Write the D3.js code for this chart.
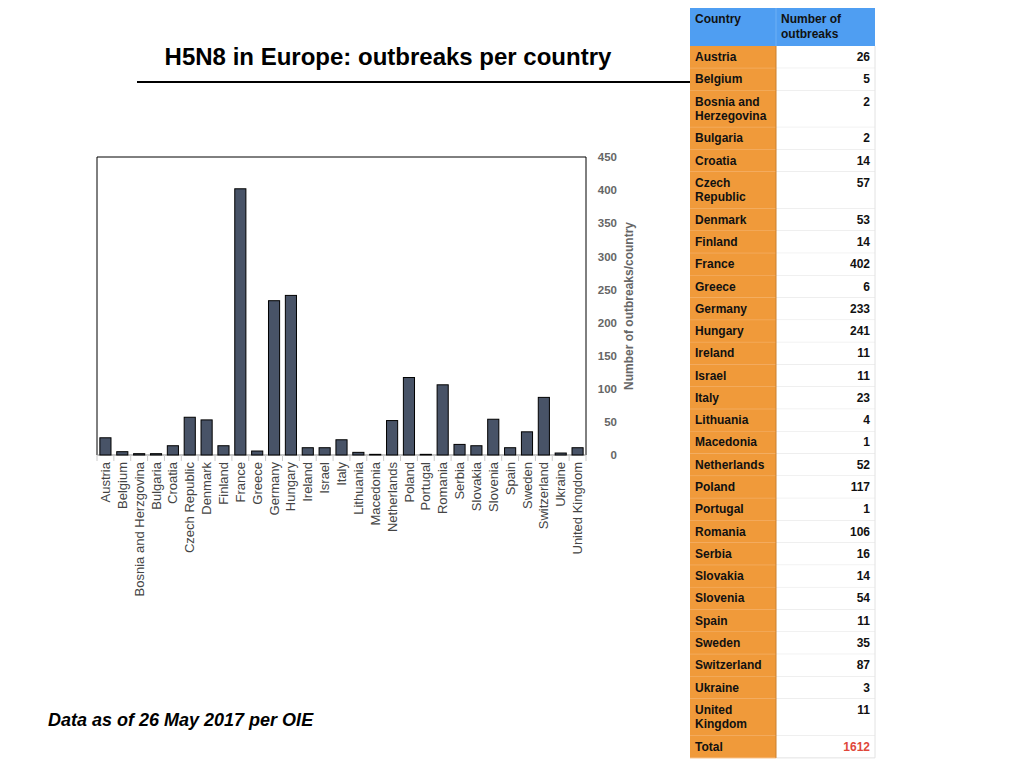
<!DOCTYPE html>
<html>
<head>
<meta charset="utf-8">
<script src="https://cdn.jsdelivr.net/npm/d3@7"></script>
<style>
  body { margin: 0; background: #fff; font-family: "Liberation Sans", Arial, Helvetica, sans-serif; }
</style>
</head>
<body>
<svg id="chart" width="1024" height="768"></svg>
<script>
// Countries as listed in the table
const countries = ["Austria", "Belgium", "Bosnia and Herzegovina", "Bulgaria", "Croatia", "Czech Republic",
  "Denmark", "Finland", "France", "Greece", "Germany", "Hungary", "Ireland", "Israel", "Italy", "Lithuania",
  "Macedonia", "Netherlands", "Poland", "Portugal", "Romania", "Serbia", "Slovakia", "Slovenia", "Spain",
  "Sweden", "Switzerland", "Ukraine", "United Kingdom"];
// Axis labels as printed under the bars (note spelling in source)
const axisLabels = ["Austria", "Belgium", "Bosnia and Herzgovina", "Bulgaria", "Croatia", "Czech Republic",
  "Denmark", "Finland", "France", "Greece", "Germany", "Hungary", "Ireland", "Israel", "Italy", "Lithuania",
  "Macedonia", "Netherlands", "Poland", "Portugal", "Romania", "Serbia", "Slovakia", "Slovenia", "Spain",
  "Sweden", "Switzerland", "Ukraine", "United Kingdom"];
const outbreaks = [26, 5, 2, 2, 14, 57, 53, 14, 402, 6, 233, 241, 11, 11, 23, 4, 1, 52, 117, 1, 106, 16, 14, 54, 11, 35, 87, 3, 11];
const yTicks = [0, 50, 100, 150, 200, 250, 300, 350, 400, 450];
const tableHeader = ["Country", "Number of outbreaks"];

const svg = d3.select("#chart");
const font = '"Liberation Sans", Arial, Helvetica, sans-serif';

// Title and rule
svg.append("text")
  .attr("x", 388).attr("y", 65)
  .attr("text-anchor", "middle")
  .attr("font-family", font).attr("font-weight", "bold").attr("font-size", 24)
  .attr("fill", "#000")
  .text("H5N8 in Europe: outbreaks per country");
svg.append("line")
  .attr("x1", 137).attr("x2", 692).attr("y1", 82).attr("y2", 82)
  .attr("stroke", "#000").attr("stroke-width", 2);

// Footnote
svg.append("text")
  .attr("x", 48).attr("y", 726)
  .attr("font-family", font).attr("font-weight", "bold").attr("font-style", "italic").attr("font-size", 18)
  .attr("fill", "#000")
  .text("Data as of 26 May 2017 per OIE");

// Bar chart
const plotL = 97, plotR = 586, plotT = 157, plotB = 455;
const x = d3.scaleBand().domain(axisLabels).range([plotL, plotR]).paddingInner(0.34).paddingOuter(0.17);
const y = d3.scaleLinear().domain([0, 450]).range([plotB, plotT]);

// frame
svg.append("path")
  .attr("d", `M${plotL},${plotB}V${plotT}H${plotR}V${plotB}`)
  .attr("fill", "none").attr("stroke", "#000").attr("stroke-width", 1);

// band boundary ticks
const xAxisG = svg.append("g").attr("transform", `translate(0,${plotB})`);
xAxisG.append("line").attr("x1", plotL).attr("x2", plotR).attr("y1", 0).attr("y2", 0)
  .attr("stroke", "#888").attr("stroke-width", 1);
xAxisG.selectAll("line.tick")
  .data(d3.range(axisLabels.length + 1))
  .join("line").attr("class", "tick")
  .attr("x1", i => plotL + i * (plotR - plotL) / axisLabels.length)
  .attr("x2", i => plotL + i * (plotR - plotL) / axisLabels.length)
  .attr("y1", 0).attr("y2", 6)
  .attr("stroke", "#ccc");

// category labels
const xAxis = d3.axisBottom(x).tickSize(0).tickPadding(0);
const xg = svg.append("g").attr("transform", `translate(0,${plotB})`).call(xAxis);
xg.select(".domain").remove();
xg.selectAll("text")
  .attr("transform", "rotate(-90)")
  .attr("text-anchor", "end")
  .attr("x", -7).attr("y", 0).attr("dy", "0.35em")
  .attr("font-family", font).attr("font-size", 13).attr("fill", "#444");

// bars
svg.selectAll("rect.bar")
  .data(outbreaks)
  .join("rect").attr("class", "bar")
  .attr("x", (d, i) => x(axisLabels[i]))
  .attr("width", x.bandwidth())
  .attr("y", d => y(d))
  .attr("height", d => plotB - y(d))
  .attr("fill", "#485367")
  .attr("stroke", "#000").attr("stroke-width", 1);

// right y axis
const yAxis = d3.axisRight(y).tickValues(yTicks).tickSize(0).tickPadding(0);
const yg = svg.append("g").attr("transform", `translate(${plotR + 31},0)`).call(yAxis);
yg.select(".domain").remove();
yg.selectAll("text")
  .attr("text-anchor", "end")
  .attr("font-family", font).attr("font-weight", "bold").attr("font-size", 11.5).attr("fill", "#666");

svg.append("text")
  .attr("transform", `translate(633,${(plotT + plotB) / 2}) rotate(-90)`)
  .attr("text-anchor", "middle")
  .attr("font-family", font).attr("font-weight", "bold").attr("font-size", 12).attr("fill", "#666")
  .text("Number of outbreaks/country");

// Table
const tx0 = 690, tx1 = 776, tx2 = 875;
const tbl = svg.append("g");
const lineH = 14.5, single = 22.28, pad = 5;

function wrap(str, width) {
  const probe = tbl.append("text").attr("font-family", font).attr("font-weight", "bold").attr("font-size", 12);
  const words = str.split(" ");
  const lines = [];
  let cur = "";
  words.forEach(w => {
    const t = cur ? cur + " " + w : w;
    probe.text(t);
    if (probe.node().getComputedTextLength() > width && cur) { lines.push(cur); cur = w; }
    else cur = t;
  });
  lines.push(cur);
  probe.remove();
  return lines;
}

// header
const headerTop = 8, headerH = 38;
tbl.append("rect").attr("x", tx0).attr("y", headerTop).attr("width", tx2 - tx0).attr("height", headerH)
  .attr("fill", "#4f9ef2");
tbl.append("line").attr("x1", tx1).attr("x2", tx1).attr("y1", headerTop).attr("y2", headerTop + headerH)
  .attr("stroke", "#6fb0f5");
[tx0, tx1].forEach((cx, ci) => {
  const lines = wrap(tableHeader[ci], tx2 - tx1 - 10);
  tbl.append("text").attr("x", cx + pad).attr("y", headerTop + 15)
    .attr("font-family", font).attr("font-weight", "bold").attr("font-size", 12).attr("fill", "#111")
    .selectAll("tspan").data(lines).join("tspan")
    .attr("x", cx + pad).attr("dy", (d, i) => i ? lineH : 0).text(d => d);
});

const rows = countries.map((c, i) => ({ name: c, value: outbreaks[i], total: false }));
rows.push({ name: "Total", value: d3.sum(outbreaks), total: true });

let ry = headerTop + headerH;
rows.forEach(r => {
  const lines = wrap(r.name, tx1 - tx0 - 12);
  const h = single + (lines.length - 1) * lineH;
  tbl.append("rect").attr("x", tx0).attr("y", ry).attr("width", tx1 - tx0).attr("height", h)
    .attr("fill", "#f09a3a");
  tbl.append("rect").attr("x", tx1).attr("y", ry).attr("width", tx2 - tx1).attr("height", h)
    .attr("fill", "#fff");
  tbl.append("line").attr("x1", tx0).attr("x2", tx1).attr("y1", ry + h).attr("y2", ry + h)
    .attr("stroke", "#f5b470").attr("stroke-width", 1);
  tbl.append("line").attr("x1", tx1).attr("x2", tx2).attr("y1", ry + h).attr("y2", ry + h)
    .attr("stroke", "#e2e2e2").attr("stroke-width", 1);
  tbl.append("text").attr("x", tx0 + pad).attr("y", ry + 15)
    .attr("font-family", font).attr("font-weight", "bold").attr("font-size", 12).attr("fill", "#111")
    .selectAll("tspan").data(lines).join("tspan")
    .attr("x", tx0 + pad).attr("dy", (d, i) => i ? lineH : 0).text(d => d);
  tbl.append("text").attr("x", tx2 - 5).attr("y", ry + 15)
    .attr("text-anchor", "end")
    .attr("font-family", font).attr("font-weight", "bold").attr("font-size", 12)
    .attr("fill", r.total ? "#e0473a" : "#111")
    .text(r.value);
  ry += h;
});
// column divider and right edge
tbl.append("line").attr("x1", tx1).attr("x2", tx1).attr("y1", headerTop + headerH).attr("y2", ry)
  .attr("stroke", "#c98030");
tbl.append("line").attr("x1", tx2).attr("x2", tx2).attr("y1", headerTop + headerH).attr("y2", ry)
  .attr("stroke", "#e2e2e2");
</script>
</body>
</html>
